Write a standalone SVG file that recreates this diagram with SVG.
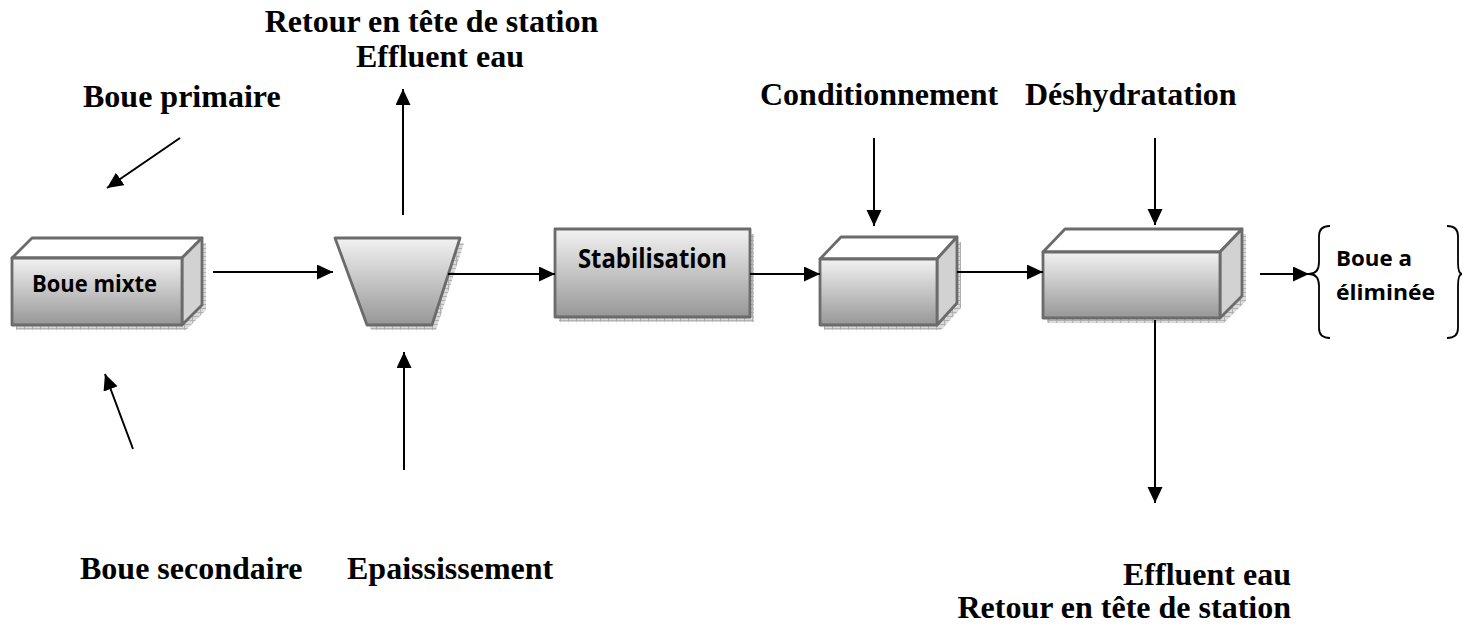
<svg xmlns="http://www.w3.org/2000/svg" width="1464" height="627" viewBox="0 0 1464 627">
<defs>
  <linearGradient id="front" x1="0" y1="0" x2="0" y2="1">
    <stop offset="0" stop-color="#f2f2f2"/>
    <stop offset="1" stop-color="#979797"/>
  </linearGradient>
  <pattern id="hatch" width="8" height="4" patternUnits="userSpaceOnUse">
    <rect width="8" height="4" fill="#dadada"/>
    <path d="M0,0.5 H8 M0.5,0 V4" stroke="#b0b0b0" stroke-width="1"/>
  </pattern>
  <marker id="ah" markerUnits="userSpaceOnUse" markerWidth="18" markerHeight="16" refX="16" refY="7.5" orient="auto">
    <path d="M0,0 L16,7.5 L0,15 z" fill="#000"/>
  </marker>
</defs>
<style>
  .ser{font-family:"Liberation Serif","Times New Roman",serif;font-weight:bold;font-size:32px;fill:#000}
  .san{font-family:"Open Sans","Liberation Sans",sans-serif;font-weight:bold;fill:#000}
  .face{stroke:#6b6b6b;stroke-width:2.8;stroke-linejoin:round}
  .front{fill:url(#front)}
  .top{fill:#ffffff}
  .side{fill:#d2d2d2}
  .shadow{fill:url(#hatch)}
  .conn{stroke:#000;stroke-width:2;fill:none}
  .brace{stroke:#000;stroke-width:1.8;fill:none}
</style>

<g id="labels">
  <text class="ser" x="431.5" y="32" text-anchor="middle">Retour en tête de station</text>
  <text class="ser" x="440" y="67" text-anchor="middle">Effluent eau</text>
  <text class="ser" x="83" y="107">Boue primaire</text>
  <text class="ser" x="760" y="105">Conditionnement</text>
  <text class="ser" x="1025" y="105">Déshydratation</text>
  <text class="ser" x="80" y="579">Boue secondaire</text>
  <text class="ser" x="347" y="579">Epaississement</text>
  <text class="ser" x="1291" y="585" text-anchor="end">Effluent eau</text>
  <text class="ser" x="1291" y="618" text-anchor="end">Retour en tête de station</text>
</g>

<g id="boue-mixte">
  <polygon class="shadow" points="16,263 36,243 206,243 206,310 186,330 16,330"/>
  <polygon class="face top" points="12,258 32,238 202,238 182,258"/>
  <polygon class="face side" points="182,258 202,238 202,305 182,325"/>
  <rect class="face front" x="12" y="258" width="170" height="67"/>
  <text class="san" x="32" y="292" font-size="23" textLength="125" lengthAdjust="spacingAndGlyphs">Boue mixte</text>
</g>

<g id="epaississement">
  <polygon class="shadow" points="339,243 464,243 436,330 371,330"/>
  <polygon class="face front" points="335,238 460,238 432,325 367,325"/>
</g>

<g id="stabilisation">
  <rect class="shadow" x="559" y="234" width="195" height="88"/>
  <rect class="face front" x="555" y="229" width="195" height="88"/>
  <text class="san" x="578" y="268" font-size="26" textLength="149" lengthAdjust="spacingAndGlyphs">Stabilisation</text>
</g>

<g id="conditionnement">
  <polygon class="shadow" points="824,264 845,242 961,242 961,308 941,330 824,330"/>
  <polygon class="face top" points="820,259 841,237 957,237 937,259"/>
  <polygon class="face side" points="937,259 957,237 957,303 937,325"/>
  <rect class="face front" x="820" y="259" width="117" height="66"/>
</g>

<g id="deshydratation">
  <polygon class="shadow" points="1047,257 1069,234 1246,234 1246,301 1224,323 1047,323"/>
  <polygon class="face top" points="1043,252 1065,229 1242,229 1220,252"/>
  <polygon class="face side" points="1220,252 1242,229 1242,296 1220,318"/>
  <rect class="face front" x="1043" y="252" width="177" height="66"/>
</g>

<g id="boue-eliminee">
  <path class="brace" d="M1330,226 Q1319,226 1319,236 L1319,262 Q1319,274 1309,274 Q1319,274 1319,286 L1319,328 Q1319,338 1330,338"/>
  <path class="brace" d="M1447,226 Q1458,226 1458,236 L1458,262 Q1458,274 1462,274 Q1458,274 1458,286 L1458,328 Q1458,338 1447,338"/>
  <text class="san" x="1336" y="266" font-size="22" textLength="76" lengthAdjust="spacingAndGlyphs">Boue a</text>
  <text class="san" x="1336" y="300" font-size="22" textLength="99" lengthAdjust="spacingAndGlyphs">éliminée</text>
</g>

<g id="connectors">
  <line class="conn" x1="180" y1="138" x2="107" y2="188" marker-end="url(#ah)"/>
  <line class="conn" x1="133" y1="449" x2="105" y2="374" marker-end="url(#ah)"/>
  <line class="conn" x1="213" y1="272" x2="333" y2="272" marker-end="url(#ah)"/>
  <line class="conn" x1="403" y1="215" x2="403" y2="89" marker-end="url(#ah)"/>
  <line class="conn" x1="404" y1="470" x2="404" y2="352" marker-end="url(#ah)"/>
  <line class="conn" x1="448" y1="274" x2="555" y2="274" marker-end="url(#ah)"/>
  <line class="conn" x1="750" y1="274" x2="820" y2="274" marker-end="url(#ah)"/>
  <line class="conn" x1="874" y1="138" x2="874" y2="226" marker-end="url(#ah)"/>
  <line class="conn" x1="957" y1="272" x2="1043" y2="272" marker-end="url(#ah)"/>
  <line class="conn" x1="1155" y1="138" x2="1155" y2="225" marker-end="url(#ah)"/>
  <line class="conn" x1="1155" y1="320" x2="1155" y2="503" marker-end="url(#ah)"/>
  <line class="conn" x1="1260" y1="274" x2="1309" y2="274" marker-end="url(#ah)"/>
</g>
</svg>
